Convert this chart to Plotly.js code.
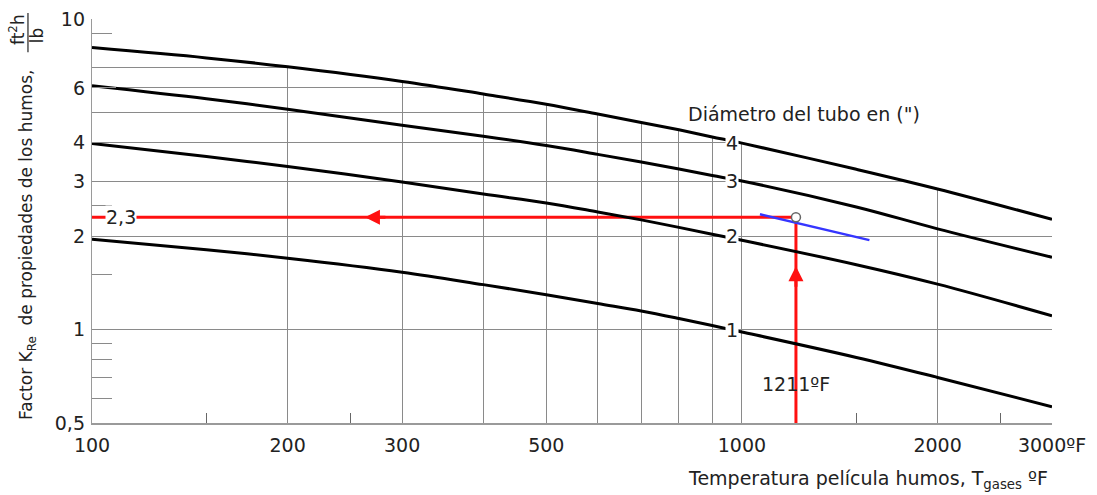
<!DOCTYPE html>
<html>
<head>
<meta charset="utf-8">
<script src="https://cdn.plot.ly/plotly-3.0.1.min.js"></script>
<style>html,body{margin:0;padding:0;background:#fff;}#chart{width:1097px;height:495px;}</style>
</head>
<body>
<div id="chart"></div>
<script>
// ---- data ----
const temps = [100, 150, 200, 300, 400, 500, 600, 700, 800, 900, 1000, 1500, 2000, 3000];
const k_d1 = [1.953, 1.807, 1.697, 1.530, 1.395, 1.295, 1.212, 1.147, 1.085, 1.030, 0.982, 0.813, 0.701, 0.564];
const k_d2 = [3.970, 3.606, 3.349, 2.987, 2.731, 2.557, 2.392, 2.255, 2.133, 2.026, 1.938, 1.617, 1.400, 1.107];
const k_d3 = [6.095, 5.535, 5.123, 4.551, 4.195, 3.912, 3.665, 3.462, 3.287, 3.133, 3.008, 2.482, 2.110, 1.709];
const k_d4 = [8.089, 7.494, 7.017, 6.296, 5.734, 5.315, 4.943, 4.643, 4.396, 4.171, 3.984, 3.280, 2.835, 2.263];
const diameters = ["1", "2", "3", "4"];
const diamLabelTemp = 965;
const blueT = [1066, 1571];
const blueK = [2.35, 1.94];
const readT = 1211;
const readK = 2.3;
const readTLabelK = 0.67;
const arrowHT = 263;
const arrowVK = 1.60;
const kLabelT = 111;

const xTickVals = [100, 200, 300, 400, 500, 600, 700, 800, 900, 1000, 2000, 3000];
const xTickText = ["100", "200", "300", "", "500", "", "", "", "", "1000", "2000", "3000ºF"];
const xMinorVals = [150, 250, 1500, 2500];
const yGridVals = [1, 2, 3, 4, 5, 6, 7];
const yTickVals = [0.5, 1, 2, 3, 4, 6, 10];
const yTickText = ["0,5", "1", "2", "3", "4", "6", "10"];
const yMinorVals = [0.6, 0.7, 0.8, 0.9, 1.5, 2.5, 9];

const FONT = "DejaVu Sans";
const TXT = "#222222";
const GRID = "#8a8a8a";
const RED = "#ff1010";
const FS = 19;

const curves = [k_d1, k_d2, k_d3, k_d4];
const traces = [];
// white mask above the top curve (grid is not drawn there in the reference)
traces.push({x: [temps[0], temps[temps.length - 1]], y: [10, 10], mode: "lines",
  line: {width: 0, color: "rgba(0,0,0,0)"}, hoverinfo: "skip"});
traces.push({x: temps, y: k_d4, mode: "lines", fill: "tonexty", fillcolor: "#ffffff",
  line: {width: 0, color: "rgba(0,0,0,0)", shape: "spline", smoothing: 1}, hoverinfo: "skip"});
// invisible trace for the tick axis
traces.push({x: [temps[0]], y: [1], yaxis: "y2", mode: "markers", marker: {opacity: 0}, hoverinfo: "skip"});
// red read-off lines
traces.push({x: [temps[0], readT], y: [readK, readK], mode: "lines", line: {color: RED, width: 3}});
traces.push({x: [readT, readT], y: [0.5, readK], mode: "lines", line: {color: RED, width: 3}});
// curves
curves.forEach(function (k) {
  traces.push({x: temps, y: k, mode: "lines", line: {color: "#000000", width: 3, shape: "spline", smoothing: 1}});
});
// blue interpolation line
traces.push({x: blueT, y: blueK, mode: "lines", line: {color: "#3535ff", width: 2.5}});
// read point
traces.push({x: [readT], y: [readK], mode: "markers",
  marker: {size: 9, color: "#ffffff", line: {color: "#666666", width: 1.5}}});

const annotations = [];
diameters.forEach(function (d) {
  annotations.push({x: Math.log10(diamLabelTemp), y: Math.log10(parseFloat(d)), text: d, showarrow: false,
    xanchor: "center", yanchor: "middle",
    bgcolor: "#ffffff", borderpad: 0, font: {family: FONT, size: FS, color: TXT}});
});
annotations.push({x: Math.log10(kLabelT), y: Math.log10(readK), text: String(readK).replace(".", ","),
  xanchor: "center", yanchor: "middle",
  showarrow: false, bgcolor: "#ffffff", borderpad: 0, font: {family: FONT, size: FS, color: TXT}});
annotations.push({x: Math.log10(readT), y: Math.log10(readTLabelK), text: readT + "ºF",
  xanchor: "center", yanchor: "middle",
  showarrow: false, font: {family: FONT, size: FS, color: TXT}});
annotations.push({x: Math.log10(arrowHT), y: Math.log10(readK), ax: 22, ay: 0, text: "", showarrow: true,
  arrowhead: 2, arrowsize: 1, arrowwidth: 3, arrowcolor: RED});
annotations.push({x: Math.log10(readT), y: Math.log10(arrowVK), ax: 0, ay: 22, text: "", showarrow: true,
  arrowhead: 2, arrowsize: 1, arrowwidth: 3, arrowcolor: RED});
annotations.push({xref: "paper", yref: "paper", x: 0.7417, y: 0.765, xanchor: "center", yanchor: "middle",
  text: "Diámetro del tubo en (\")",
  showarrow: false, font: {family: FONT, size: FS, color: TXT}});
annotations.push({xref: "paper", yref: "paper", x: 0.808, y: -0.141, xanchor: "center", yanchor: "middle",
  text: "Temperatura película humos, T<sub>gases</sub> ºF",
  showarrow: false, font: {family: FONT, size: FS, color: TXT}});
annotations.push({xref: "paper", yref: "paper", x: -0.067, y: 0.44, textangle: -90,
  xanchor: "center", yanchor: "middle",
  text: "Factor K<sub>Re</sub>  de propiedades de los humos,",
  showarrow: false, font: {family: FONT, size: 17, color: TXT}});
annotations.push({xref: "paper", yref: "paper", x: -0.0781, y: 0.9728, textangle: -90,
  xanchor: "center", yanchor: "middle",
  text: "ft<sup>2</sup>h", showarrow: false, font: {family: FONT, size: 17, color: TXT}});
annotations.push({xref: "paper", yref: "paper", x: -0.0573, y: 0.960, textangle: -90,
  xanchor: "center", yanchor: "middle",
  text: "lb", showarrow: false, font: {family: FONT, size: 17, color: TXT}});

const layout = {
  width: 1097, height: 495,
  margin: {l: 92, r: 45, t: 19, b: 72},
  paper_bgcolor: "#ffffff", plot_bgcolor: "#ffffff",
  showlegend: false,
  font: {family: FONT, size: FS, color: TXT},
  xaxis: {
    type: "log", range: [Math.log10(100), Math.log10(3000)],
    tickmode: "array", tickvals: xTickVals, ticktext: xTickText, ticks: "",
    showgrid: true, gridcolor: GRID, gridwidth: 1, zeroline: false,
    showline: true, linecolor: "#9a9a9a", linewidth: 1.5,
    tickfont: {family: FONT, size: FS, color: TXT}, ticklabelstandoff: 5,
    minor: {tickmode: "array", tickvals: xMinorVals, ticks: "inside", ticklen: 10, tickcolor: "#666666", tickwidth: 1, showgrid: false}
  },
  yaxis: {
    type: "log", range: [Math.log10(0.5), 1],
    tickmode: "array", tickvals: yGridVals, showticklabels: false, ticks: "",
    showgrid: true, gridcolor: GRID, gridwidth: 1, zeroline: false,
    showline: true, linecolor: "#9a9a9a", linewidth: 1.5
  },
  yaxis2: {
    type: "log", range: [Math.log10(0.5), 1], overlaying: "y", side: "left", anchor: "x",
    tickmode: "array", tickvals: yTickVals, ticktext: yTickText,
    ticks: "inside", ticklen: 24, tickcolor: "#8a8a8a", tickwidth: 1,
    showgrid: false, zeroline: false, showline: false,
    tickfont: {family: FONT, size: FS, color: TXT}, ticklabelstandoff: 6,
    minor: {tickmode: "array", tickvals: yMinorVals, ticks: "inside", ticklen: 20, tickcolor: "#8a8a8a", tickwidth: 1, showgrid: false}
  },
  shapes: [
    {type: "line", xref: "paper", yref: "paper", x0: -0.0667, x1: -0.0667, y0: 1.015, y1: 0.918,
      line: {color: TXT, width: 1.2}}
  ],
  annotations: annotations
};

Plotly.newPlot("chart", traces, layout, {displayModeBar: false, staticPlot: true});
</script>
</body>
</html>
